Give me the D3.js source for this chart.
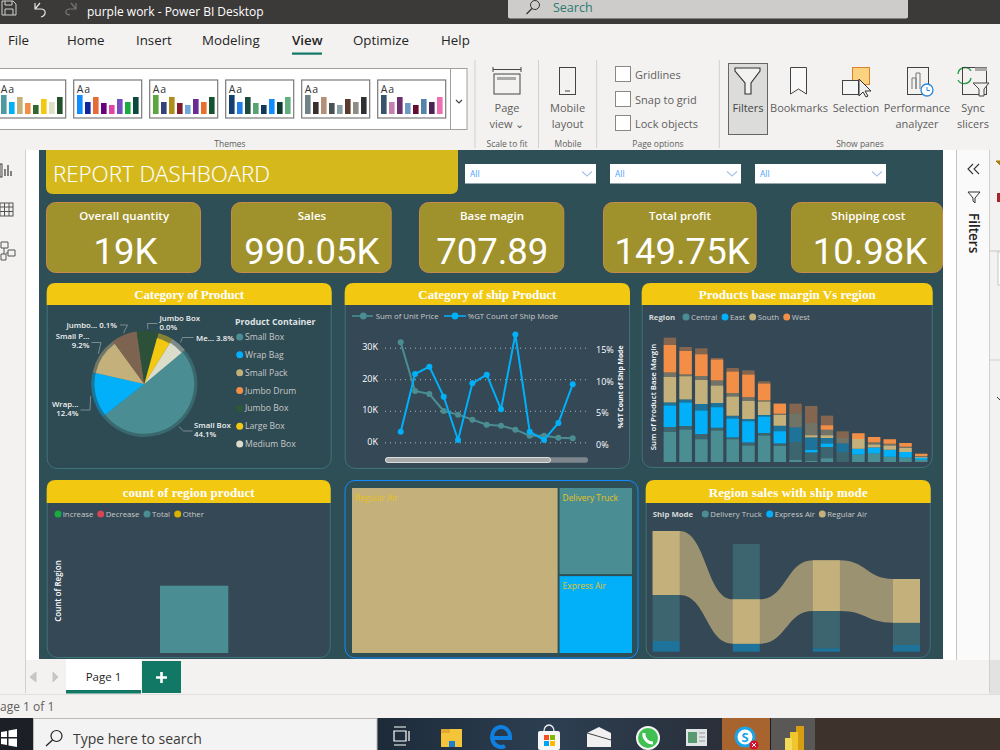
<!DOCTYPE html>
<html>
<head>
<meta charset="utf-8">
<title>purple work - Power BI Desktop</title>
<script src="https://cdn.jsdelivr.net/npm/d3@7"></script>
<style>
  html, body { margin: 0; padding: 0; background: #f3f2f1; overflow: hidden; }
  svg { display: block; font-family: "Open Sans", sans-serif; }
</style>
</head>
<body>
<div id="chart"></div>
<script>
// ---- chart data ----
const kpiTitles = ["Overall quantity", "Sales", "Base magin", "Total profit", "Shipping cost"];
const kpiValues = ["19K", "990.05K", "707.89", "149.75K", "10.98K"];

const containers = ["Small Box", "Wrap Bag", "Small Pack", "Jumbo Drum", "Jumbo Box", "Large Box", "Medium Box"];
const containerShare = [50.6, 14.2, 11.4, 7.8, 6.6, 4.6, 5.0];
const containerHighlight = [0.94, 0.94, 0.94, 1, 1, 0.9, 0.92];
const containerColors = ["#4a8e93", "#01b0f9", "#c4b07b", "#7d6450", "#2d5138", "#f2c811", "#dcdccb"];
const containerLegendColors = ["#4a8e93", "#01b0f9", "#c4b07b", "#f28e45", "#2d5a35", "#f2c811", "#dcdccb"];

const shipCategories = d3.range(1, 14);
const unitPrice = [31690, 16270, 15320, 9930, 8770, 7180, 5600, 5280, 4010, 2110, 2110, 1480, 1270];
const shipModePct = [1.69, 10.83, 11.99, 7.24, 0.37, 9.35, 10.72, 5.23, 17.11, 1.69, 0.37, 3.06, 9.19];
const priceTicks = [0, 10000, 20000, 30000];
const pctTicks = [0, 5, 10, 15];

const regions = ["Central", "East", "South", "West"];
const regionColors = ["#4a8e93", "#01b0f9", "#c4b07b", "#f28e45"];
const marginBars = d3.range(1, 18);
const centralTotal = [105, 108, 84, 103, 74, 59, 87, 56, 60, 29, 45, 30, 23, 26, 16, 14, 7];
const centralHigh = [90, 97, 68, 94, 68, 49, 79, 48, 6, 3, 11, 0, 23, 26, 16, 14, 7];
const eastTotal = [74, 80, 90, 74, 65, 70, 54, 53, 44, 45, 27, 26, 17, 18, 21, 16, 6];
const eastHigh = [64, 70, 70, 61, 56, 63, 49, 36, 0, 7, 10, 0, 17, 17, 21, 16, 6];
const southTotal = [90, 75, 84, 68, 68, 66, 44, 36, 42, 43, 25, 16, 29, 15, 18, 16, 5];
const southHigh = [76, 69, 72, 52, 57, 54, 40, 32, 0, 6, 8, 0, 29, 8, 12, 12, 2];
const westTotal = [104, 82, 83, 67, 75, 80, 57, 30, 29, 51, 42, 20, 17, 16, 13, 11, 8];
const westHigh = [82, 70, 65, 62, 64, 67, 50, 30, 0, 0, 13, 0, 17, 16, 13, 11, 6];

const waterfallLegend = ["Increase", "Decrease", "Total", "Other"];
const waterfallColors = ["#1aab40", "#d64554", "#4a8e93", "#d9b300"];
const regionCount = [4];

const treemapNames = ["Regular Air", "Delivery Truck", "Express Air"];
const treemapValues = [33660, 6364, 5698];
const treemapColors = ["#c4b07b", "#4a8e93", "#01b0f9"];

const ribbonRegions = ["R1", "R2", "R3", "R4"];
const shipModes = ["Delivery Truck", "Express Air", "Regular Air"];
const shipModeColors = ["#4a8e93", "#01b0f9", "#c4b07b"];
const deliveryTruck = [138, 166, 112, 67];
const expressAir = [32, 24, 10, 20];
const regularAir = [192, 133, 152, 131];

// ---- ribbon gallery and tabs of the window around the report ----
const ribbonTabs = ["File", "Home", "Insert", "Modeling", "View", "Optimize", "Help"];
const themeSwatches = [
  ["#4e9a9e", "#01b0f9", "#c4b07b", "#f28e45", "#33662e", "#f2c811", "#dfdfc8", "#22502a"],
  ["#118dff", "#12239e", "#e66c37", "#6b007b", "#e044a7", "#744ec2", "#1aab40", "#0b4a3c"],
  ["#5ca63f", "#374178", "#ae8f1b", "#7f1d2d", "#6fa8dc", "#6a2c91", "#e8702a", "#14532d"],
  ["#123f6d", "#1f7fe4", "#1c4a3f", "#5ba272", "#10395e", "#118dff", "#0c3a2f", "#62ae7f"],
  ["#6f8287", "#3a2f2c", "#b59079", "#4a5154", "#8a9ea5", "#5b3a2e", "#8e8c85", "#2d3134"],
  ["#37536b", "#c77fb0", "#6b2f6e", "#6d9ac4", "#680a32", "#5582a8", "#4c2350", "#ef6eb3"]
];
const themeBarHeights = [19, 12, 17, 11, 9, 15, 12, 17];

const svg = d3.select("#chart").append("svg")
    .attr("width", 1000)
    .attr("height", 750)
    .attr("viewBox", "0 0 1000 750");

// small helpers
function rect(g, x, y, w, h, fill, extra) {
  const r = g.append("rect").attr("x", x).attr("y", y).attr("width", w).attr("height", h).attr("fill", fill);
  if (extra) Object.keys(extra).forEach(k => r.attr(k, extra[k]));
  return r;
}
function text(g, x, y, str, size, fill, extra) {
  const t = g.append("text").attr("x", x).attr("y", y).attr("font-size", size).attr("fill", fill).text(str);
  if (extra) Object.keys(extra).forEach(k => t.attr(k, extra[k]));
  return t;
}
function path(g, d, stroke, extra) {
  const p = g.append("path").attr("d", d).attr("fill", "none").attr("stroke", stroke);
  if (extra) Object.keys(extra).forEach(k => p.attr(k, extra[k]));
  return p;
}

drawWindow();
drawReportTop();
drawPie();
drawCombo();
drawStacked();
drawWaterfall();
drawTreemap();
drawRibbon();

function drawWindow() {
  const g = svg.append("g");
  rect(g, 0, 0, 1000, 750, "#f3f2f1");

  // title bar
  rect(g, 0, 0, 1000, 24, "#3b3a39");
  path(g, "M2 1V15H16V4L13 1H2M5 1V5H12V1M5 15V9H13V15", "#d0d0d0", {"stroke-width": 1});
  path(g, "M35 3V9H41C46 9 47 15 41 17M35 9L40 3", "#e6e6e6", {"stroke-width": 1.2});
  path(g, "M76 3V9H70C65 9 64 15 70 15M76 9L71 3", "#777", {"stroke-width": 1.2});
  text(g, 87, 15.5, "purple work - Power BI Desktop", 12, "#fff");
  rect(g, 508, -4, 400, 22.5, "#cdccca", {rx: 2});
  g.append("circle").attr("cx", 535).attr("cy", 5).attr("r", 4.5).attr("fill", "none").attr("stroke", "#333");
  path(g, "M532 8.5L526.5 14", "#333", {"stroke-width": 1.2});
  text(g, 553, 12, "Search", 12.5, "#2a7a70");

  // tabs
  const tabX = [8, 67, 136, 202, 292, 353, 441];
  ribbonTabs.forEach((t, i) => {
    text(g, tabX[i], 45, t, 13.3, "#252423", t === "View" ? {"font-weight": 600} : null);
  });
  rect(g, 292, 52.5, 30, 2.2, "#117865");

  // theme gallery
  rect(g, -2, 68.5, 469, 61, "#fff", {stroke: "#a0a0a0"});
  path(g, "M450.5 68.5V129.5", "#a0a0a0");
  path(g, "M456 100L459 103L462 100", "#444", {"stroke-width": 1.2});
  themeSwatches.forEach((colors, i) => {
    const tx = -2.3 + i * 76;
    rect(g, tx, 80, 68, 38, "#fff", {stroke: "#7a7a7a", "stroke-width": 1.2});
    text(g, tx + 3, 92.5, "Aa", 10.5, "#333", {"letter-spacing": 0.8});
    colors.forEach((c, j) => {
      rect(g, tx + 3.3 + j * 8, 114 - themeBarHeights[j], 5.6, themeBarHeights[j], c);
    });
  });

  // group separators and captions
  [475, 538.5, 596.7, 719.3].forEach(x => path(g, `M${x} 60V148`, "#d2d0ce"));
  const cap = {"text-anchor": "middle"};
  text(g, 230, 147, "Themes", 8.5, "#605e5c", cap);
  text(g, 507, 147, "Scale to fit", 8.5, "#605e5c", cap);
  text(g, 568, 147, "Mobile", 8.5, "#605e5c", cap);
  text(g, 658, 147, "Page options", 8.5, "#605e5c", cap);
  text(g, 860, 147, "Show panes", 8.5, "#605e5c", cap);

  // page view
  path(g, "M493 67V72M493 69.5H521M521 67V72", "#444");
  rect(g, 494, 74, 26, 20, "none", {stroke: "#444"});
  rect(g, 497, 77, 19, 3, "#aaa");
  text(g, 507, 112, "Page", 11, "#605e5c", cap);
  text(g, 507, 128, "view \u2304", 11, "#605e5c", cap);

  // mobile layout
  rect(g, 559.5, 67.5, 16, 27, "none", {stroke: "#444"});
  path(g, "M565 91H570", "#444");
  text(g, 567.6, 112, "Mobile", 11, "#605e5c", cap);
  text(g, 567.6, 128, "layout", 11, "#605e5c", cap);

  // page options
  [["Gridlines", 66.5, 79], ["Snap to grid", 91.5, 104], ["Lock objects", 115.5, 128]].forEach(d => {
    rect(g, 615.5, d[1], 15, 15, "#fff", {stroke: "#8a8886"});
    text(g, 635, d[2], d[0], 11, "#605e5c");
  });

  // show panes
  rect(g, 728.5, 63.5, 39, 71, "#dcdcdb", {stroke: "#666"});
  path(g, "M735 68H760V71L751 83V94H745V83L735 71Z", "#333", {fill: "#f3f2f1", "stroke-width": 1.1});
  text(g, 748, 112, "Filters", 11, "#444", cap);
  path(g, "M790.5 67.5H806.5V94L798.5 89L790.5 94Z", "#444", {fill: "#f9f9f9"});
  text(g, 799, 112, "Bookmarks", 11, "#605e5c", cap);
  rect(g, 852.5, 67.5, 17, 17, "#fbd27f", {stroke: "#d9822b"});
  rect(g, 842.5, 80.5, 16, 14, "#f6f6f6", {stroke: "#444"});
  path(g, "M859 79V96L863 92L866 97L868 96L865 91H871Z", "#333", {fill: "#eee"});
  text(g, 856, 112, "Selection", 11, "#605e5c", cap);
  rect(g, 907.5, 67.5, 21, 27, "none", {stroke: "#444"});
  path(g, "M912 89V78H916V89M916 89V73H920V89", "#777");
  g.append("circle").attr("cx", 927).attr("cy", 90).attr("r", 6).attr("fill", "#fff").attr("stroke", "#2b88d8").attr("stroke-width", 1.3);
  path(g, "M927 87V90.5H930", "#2b88d8");
  text(g, 917, 112, "Performance", 11, "#605e5c", cap);
  text(g, 917, 128, "analyzer", 11, "#605e5c", cap);
  path(g, "M958 74A7 7 0 0 1 971 71M971 78A7 7 0 0 1 958 80", "#2e9e4f", {"stroke-width": 1.4});
  rect(g, 962.5, 67.5, 24, 27, "none", {stroke: "#444"});
  rect(g, 975, 67.5, 12, 3.5, "#aaa");
  path(g, "M973 83H989L984 89V96H979V89Z", "#444", {fill: "#f3f2f1"});
  text(g, 973, 112, "Sync", 11, "#605e5c", cap);
  text(g, 973, 128, "slicers", 11, "#605e5c", cap);

  // left rail
  rect(g, 26, 150, 13, 510, "#fff");
  path(g, "M25.5 150V693", "#d2d0ce");
  rect(g, 0, 164, 2, 13, "none", {stroke: "#444"});
  path(g, "M5 176V169M8 176V165M11 176V171", "#444", {"stroke-width": 1.3});
  rect(g, 0, 203, 13, 13, "none", {stroke: "#555"});
  path(g, "M0 207H13M0 211.5H13M4.5 203V216M9 203V216", "#555");
  path(g, "M1 242H8V248H1ZM8 250H15V256H8ZM1 254H6V260H1ZM4 248V254M8 253H6", "#555");

  // right rail
  rect(g, 943, 150, 14, 510, "#fff");
  rect(g, 957, 150, 32, 510, "#fafafa");
  path(g, "M956.5 150V660", "#c8c6c4");
  path(g, "M989.5 150V693", "#d2d0ce");
  rect(g, 990, 150, 10, 510, "#f3f2f1");
  path(g, "M973 164L968 169L973 174M979 164L974 169L979 174", "#333", {"stroke-width": 1.1});
  path(g, "M968 192H980L975 198V203L973 201V198Z", "#333");
  text(g, 0, 0, "Filters", 13.5, "#252423", {transform: "translate(969,213) rotate(90)", "font-weight": 600});
  path(g, "M996 161H1000L1000 165Z", "#a4800a", {fill: "#a4800a"});
  rect(g, 997, 193, 3, 9, "#a4262c");
  path(g, "M990 251H1000", "#c8c6c4");
  rect(g, 998, 252, 4, 33, "#fff", {stroke: "#c8c6c4"});
  path(g, "M990 360H1000", "#d2d0ce");
  path(g, "M997 397L1000 400", "#333");
  rect(g, 990, 660, 10, 34, "#e3e2e0");

  // page tabs
  path(g, "M30 677L36 672V682ZM58 677L53 672V682Z", "#c8c6c4", {fill: "#c8c6c4"});
  rect(g, 66, 659, 75, 34, "#fff");
  rect(g, 66, 690, 75, 3.5, "#117865");
  text(g, 103.5, 681, "Page 1", 11.5, "#252423", cap);
  rect(g, 142, 661, 39, 32, "#117865");
  path(g, "M161.5 672V683M156 677.5H167", "#fff", {"stroke-width": 2.6});
  path(g, "M0 694.5H1000", "#e1dfdd");
  text(g, 0, 711, "age 1 of 1", 12, "#605e5c");

  // taskbar
  const grad = svg.append("defs").append("linearGradient").attr("id", "task");
  grad.append("stop").attr("offset", "0").attr("stop-color", "#1d2a38");
  grad.append("stop").attr("offset", "0.5").attr("stop-color", "#2c3f52");
  grad.append("stop").attr("offset", "1").attr("stop-color", "#2a2f39");
  rect(g, 0, 718, 1000, 32, "#1c1f26");
  rect(g, 377, 718, 345, 32, "url(#task)");
  rect(g, 722, 718, 48, 32, "#a8642e");
  rect(g, 771, 718, 44, 32, "#5a5856");
  rect(g, 815, 718, 185, 32, "#3d322c");
  path(g, "M1 732L7 731V737H1ZM8.5 730.5L17 729V737H8.5ZM1 738.5H7V745L1 744ZM8.5 738.5H17V747L8.5 745.5Z", "#fff", {fill: "#fff", stroke: "none"});
  rect(g, 33.5, 718.5, 343.5, 32, "#f3f3f3", {stroke: "#bbb"});
  g.append("circle").attr("cx", 56.5).attr("cy", 736).attr("r", 5.5).attr("fill", "none").attr("stroke", "#222").attr("stroke-width", 1.2);
  path(g, "M52.5 740L46 746", "#222", {"stroke-width": 1.3});
  text(g, 73, 744, "Type here to search", 14, "#3b3a39");

  // taskbar icons
  path(g, "M394 731H406V741H394ZM394 727H406M394 745H406M409 731V741", "#fff", {"stroke-width": 1.2});
  rect(g, 441, 729, 21, 18, "#f4c53b");
  rect(g, 441, 729, 9, 4, "#e0a82e");
  rect(g, 449, 741, 6, 6, "#1d7fd1");
  path(g, "M493 738H510A9 10 0 1 0 505 746", "#0f7fe0", {"stroke-width": 4});
  rect(g, 538, 731, 22, 19, "#f6f6f6", {rx: 2});
  path(g, "M544 731A5 6 0 0 1 554 731", "#eee", {"stroke-width": 1.3});
  rect(g, 544, 735, 5, 5, "#f25022");
  rect(g, 550, 735, 5, 5, "#7fba00");
  rect(g, 544, 741, 5, 5, "#00a4ef");
  rect(g, 550, 741, 5, 5, "#ffb900");
  path(g, "M587 733L599 727L611 733V747H587Z", "#f0f0f0", {fill: "#f0f0f0", stroke: "none"});
  path(g, "M587 733L611 740", "#444");
  g.append("circle").attr("cx", 648).attr("cy", 738).attr("r", 11).attr("fill", "#3fc051").attr("stroke", "#f5f5f5").attr("stroke-width", 2);
  path(g, "M644 733C643 739 648 743 653 743", "#fff", {"stroke-width": 3});
  rect(g, 686, 729, 21, 17, "#dfe4e6");
  rect(g, 688, 732, 9, 11, "#5a9a70");
  path(g, "M699 733H705M699 737H705M699 741H705", "#999");
  g.append("circle").attr("cx", 745).attr("cy", 737).attr("r", 9).attr("fill", "#fff").attr("stroke", "#1aa5e8").attr("stroke-width", 3);
  text(g, 745, 742, "S", 13, "#1aa5e8", {"text-anchor": "middle", "font-weight": 700});
  g.append("circle").attr("cx", 754).attr("cy", 745).attr("r", 4.5).attr("fill", "#d6102d");
  path(g, "M752 743L756 747M756 743L752 747", "#fff");
  rect(g, 796, 726, 8, 24, "#d79e0f");
  rect(g, 790, 732, 8, 18, "#f0c62f");
  rect(g, 785, 738, 7, 12, "#f5da58");
}

function drawReportTop() {
  const g = svg.append("g");
  rect(g, 39, 150, 904, 509, "#2d4f55");

  // title banner, its top edge is cut by the ribbon
  g.append("path").attr("d", "M46 150H458V187Q458 194 451 194H53Q46 194 46 187Z").attr("fill", "#d5b81c");
  text(g, 53, 181.5, "REPORT DASHBOARD", 22.3, "#fff", {"font-weight": 300, style: "stroke:#fff;stroke-width:0.15"});

  // slicers
  [[465, 131], [610, 131], [755, 131]].forEach(d => {
    rect(g, d[0], 164, d[1], 19.5, "#fff");
    text(g, d[0] + 5, 177, "All", 8.4, "#4aa3ff");
    path(g, `M${d[0] + 117} 171.5L${d[0] + 122} 176L${d[0] + 127} 171.5`, "#a8c4ea", {"stroke-width": 1.2});
  });

  // KPI cards
  const cardX = [[46, 201], [231, 391.7], [419, 564.3], [603, 756.7], [791, 943]];
  const titleCx = [124.2, 312, 492, 680, 868.3];
  const valueCx = [125.5, 311.8, 492.3, 682, 870];
  kpiTitles.forEach((t, i) => {
    rect(g, cardX[i][0] + 0.5, 202.5, cardX[i][1] - cardX[i][0] - 1, 70, "#9f922c", {rx: 9, stroke: "#c98a4a"});
    text(g, titleCx[i], 220, t, 11.5, "#fff", {"text-anchor": "middle", "font-weight": 600});
    text(g, valueCx[i], 264, kpiValues[i], 36.5, "#fff", {"text-anchor": "middle", style: "font-family:Roboto"});
  });
}

// rounded tile with the yellow heading that every chart has
function panel(x0, x1, y0, y1, title, titleWidth, fill, headerH) {
  const g = svg.append("g");
  rect(g, x0 + 0.5, y0 + 0.5, x1 - x0 - 1, y1 - y0 - 1, fill, {rx: 10, stroke: "#3d7479", "stroke-width": 1});
  const r = 9;
  g.append("path")
      .attr("d", `M${x0} ${y0 + headerH}V${y0 + r}Q${x0} ${y0} ${x0 + r} ${y0}H${x1 - r}Q${x1} ${y0} ${x1} ${y0 + r}V${y0 + headerH}Z`)
      .attr("fill", "#f2c811");
  text(g, (x0 + x1) / 2, y0 + headerH - 6.5, title, 13, "#fff", {
    "text-anchor": "middle", "font-weight": 700, textLength: titleWidth, lengthAdjust: "spacing",
    style: "font-family:'Liberation Serif',serif"
  });
  return g;
}

// dot + label legend
function legend(g, y, names, colors, markX, labelX, size, fill) {
  names.forEach((n, i) => {
    g.append("circle").attr("cx", markX[i]).attr("cy", y).attr("r", 3.5).attr("fill", colors[i]);
    text(g, labelX[i], y + 2.8, n, size, fill);
  });
}

function drawPie() {
  const g = panel(46.7, 331.7, 283, 469, "Category of Product", 110, "#2e4a53", 22);
  const cx = 144.3, cy = 384, outer = 53;

  const pie = d3.pie().sort(null)
      .startAngle(50 * Math.PI / 180)
      .endAngle((50 + 360) * Math.PI / 180);
  const arcs = pie(containerShare);

  const ring = d3.arc().innerRadius(0).outerRadius(outer);
  const inner = d3.arc().innerRadius(0).outerRadius((d, i) => outer * containerHighlight[i]);

  const pg = g.append("g").attr("transform", `translate(${cx},${cy})`);
  pg.selectAll("path.ring").data(arcs).join("path")
      .attr("class", "ring")
      .attr("d", d => ring(d))
      .attr("fill", (d, i) => containerColors[i])
      .attr("opacity", 0.45);
  pg.selectAll("path.slice").data(arcs).join("path")
      .attr("class", "slice")
      .attr("d", (d, i) => inner(d, i))
      .attr("fill", (d, i) => containerColors[i]);

  // labels, Large Box has none
  const labels = [
    {i: 0, lines: ["Small Box", "44.1%"], x: 194, y: 428, anchor: "start", elbow: 183.5, lineY: 431, end: 192.5},
    {i: 1, lines: ["Wrap...", "12.4%"], x: 78.5, y: 407, anchor: "end", elbow: 90, lineY: 410, end: 80.5},
    {i: 2, lines: ["Small P...", "9.2%"], x: 89.5, y: 339, anchor: "end", elbow: 101, lineY: 342.5, end: 91.5},
    {i: 3, lines: ["Jumbo... 0.1%"], x: 117, y: 327.5, anchor: "end", elbow: 127.5, lineY: 325, end: 120},
    {i: 4, lines: ["Jumbo Box", "0.0%"], x: 159.5, y: 321, anchor: "start", elbow: 147.5, lineY: 323.5, end: 157.5},
    {i: 6, lines: ["Me... 3.8%"], x: 196, y: 341, anchor: "start", elbow: 182.5, lineY: 337.5, end: 193.5}
  ];
  const labelArc = d3.arc().innerRadius(outer + 2).outerRadius(outer + 2);
  labels.forEach(l => {
    const c = labelArc.centroid(arcs[l.i]);
    const line = d3.line();
    path(g, line([[cx + c[0], cy + c[1]], [l.elbow, l.lineY], [l.end, l.lineY]]), "#8d9da0", {"stroke-width": 0.8});
    l.lines.forEach((s, k) => {
      text(g, l.x, l.y + k * 9, s, 7.8, "#eef2f2", {"text-anchor": l.anchor, "font-weight": 600});
    });
  });

  // legend
  text(g, 235, 324.5, "Product Container", 8.8, "#dfe3e3", {"font-weight": 700});
  const legendY = d3.scalePoint().domain(containers).range([337, 444]);
  containers.forEach((n, i) => {
    g.append("circle").attr("cx", 239.7).attr("cy", legendY(n)).attr("r", 3.5).attr("fill", containerLegendColors[i]);
    text(g, 245, legendY(n) + 3, n, 8.6, "#c8c9c8");
  });
}

function drawCombo() {
  const g = panel(344.7, 630, 283, 469, "Category of ship Product", 138, "#344856", 22);

  const x = d3.scalePoint().domain(shipCategories).range([400.7, 572.7]);
  const yPrice = d3.scaleLinear().domain([0, 30000]).range([442.3, 347.7]);
  const yPct = d3.scaleLinear().domain([0, 15]).range([442.3, 347.7]);

  // left axis doubles as the dotted gridlines
  const left = g.append("g").attr("transform", "translate(385,0)")
      .call(d3.axisLeft(yPrice).tickValues(priceTicks).tickSize(-203).tickPadding(7).tickFormat(d => (d / 1000) + "K"));
  left.select(".domain").remove();
  left.selectAll(".tick line").attr("stroke", "#aeb7ba").attr("stroke-dasharray", "1,4").attr("stroke-width", 1);
  left.selectAll("text").attr("font-size", 9).attr("fill", "#fff").attr("dy", "0.2em").attr("font-family", "'Open Sans'");

  const right = g.append("g").attr("transform", "translate(588,0)")
      .call(d3.axisRight(yPct).tickValues(pctTicks).tickSize(0).tickPadding(8).tickFormat(d => d + "%"));
  right.select(".domain").remove();
  right.selectAll("text").attr("font-size", 9).attr("fill", "#fff").attr("dy", "0.55em").attr("font-family", "'Open Sans'");

  text(g, 0, 0, "%GT Count of Ship Mode", 6.8, "#fff", {
    transform: "translate(623,387) rotate(-90)", "text-anchor": "middle", "font-weight": 700
  });

  // series
  const priceLine = d3.line().x((d, i) => x(shipCategories[i])).y(d => yPrice(d));
  const pctLine = d3.line().x((d, i) => x(shipCategories[i])).y(d => yPct(d));
  path(g, priceLine(unitPrice), "#4a8e93", {"stroke-width": 2});
  g.selectAll("circle.price").data(unitPrice).join("circle")
      .attr("class", "price")
      .attr("cx", (d, i) => x(shipCategories[i])).attr("cy", d => yPrice(d)).attr("r", 3).attr("fill", "#4a8e93");
  path(g, pctLine(shipModePct), "#01b0f9", {"stroke-width": 2});
  g.selectAll("circle.pct").data(shipModePct).join("circle")
      .attr("class", "pct")
      .attr("cx", (d, i) => x(shipCategories[i])).attr("cy", d => yPct(d)).attr("r", 3).attr("fill", "#01b0f9");

  // legend
  path(g, "M352 316H373", "#4a8e93", {"stroke-width": 1.6});
  g.append("circle").attr("cx", 363.3).attr("cy", 316).attr("r", 3.4).attr("fill", "#4a8e93");
  text(g, 375.7, 319, "Sum of Unit Price", 7.8, "#c8c9c8");
  path(g, "M444 316H466", "#01b0f9", {"stroke-width": 1.6});
  g.append("circle").attr("cx", 455).attr("cy", 316).attr("r", 3.4).attr("fill", "#01b0f9");
  text(g, 467.7, 319, "%GT Count of Ship Mode", 7.8, "#c8c9c8");

  // scrollbar
  rect(g, 385, 457.3, 203, 5.4, "#7d868c", {rx: 2.5});
  rect(g, 385.5, 457.5, 165, 5, "#a9abab", {rx: 2.5, stroke: "#f0f0f0", "stroke-width": 0.8});
}

function drawStacked() {
  const g = panel(641.7, 932.7, 283, 468, "Products base margin Vs region", 177, "#344856", 22);

  const x = d3.scaleBand().domain(marginBars).range([663.7, 927.4]).paddingInner(0.21);
  const y = d3.scaleLinear().domain([0, 400]).range([462, 328.67]);
  const totals = [centralTotal, eastTotal, southTotal, westTotal];
  const highs = [centralHigh, eastHigh, southHigh, westHigh];

  marginBars.forEach((bar, b) => {
    let base = 0;
    regions.forEach((region, r) => {
      const t = totals[r][b], h = highs[r][b];
      rect(g, x(bar), y(base + t), x.bandwidth(), y(base) - y(base + t), regionColors[r], {opacity: 0.42});
      rect(g, x(bar), y(base + h), x.bandwidth(), y(base) - y(base + h), regionColors[r]);
      base += t;
    });
  });

  text(g, 648.7, 320, "Region", 7.8, "#d6d8d8", {"font-weight": 700});
  legend(g, 317, regions, regionColors, [686, 725, 752.7, 786.7], [691, 730, 757.7, 791.7], 7.8, "#c8c9c8");
  text(g, 0, 0, "Sum of Product Base Margin", 7.8, "#fff", {
    transform: "translate(655.5,397) rotate(-90)", "text-anchor": "middle", "font-weight": 600
  });
}

function drawWaterfall() {
  const g = panel(46.7, 330.7, 480, 658, "count of region product", 132, "#344856", 23);

  const x = d3.scaleBand().domain(["Total"]).range([160, 228.3]);
  const y = d3.scaleLinear().domain([0, d3.max(regionCount)]).range([653, 585.7]);
  g.selectAll("rect.total").data(regionCount).join("rect")
      .attr("class", "total")
      .attr("x", x("Total")).attr("width", x.bandwidth())
      .attr("y", d => y(d)).attr("height", d => y(0) - y(d))
      .attr("fill", "#4a8e93");

  legend(g, 514, waterfallLegend, waterfallColors, [58, 100.7, 147, 177.7], [62.7, 105.7, 152, 182.7], 7.8, "#c8c9c8");
  text(g, 0, 0, "Count of Region", 8, "#fff", {
    transform: "translate(60.5,591) rotate(-90)", "text-anchor": "middle", "font-weight": 600
  });
}

function drawTreemap() {
  const g = svg.append("g");
  rect(g, 345, 480.5, 293, 177.5, "#2d4f55", {rx: 10, stroke: "#118dff", "stroke-width": 1});

  const root = d3.hierarchy({children: treemapNames.map((n, i) => ({name: n, value: treemapValues[i], color: treemapColors[i]}))})
      .sum(d => d.value);
  d3.treemap().tile(d3.treemapBinary).size([280, 165]).paddingInner(2)(root);

  const tile = g.append("g").attr("transform", "translate(352,488)");
  tile.selectAll("rect").data(root.leaves()).join("rect")
      .attr("x", d => d.x0).attr("y", d => d.y0)
      .attr("width", d => d.x1 - d.x0).attr("height", d => d.y1 - d.y0)
      .attr("fill", d => d.data.color);
  tile.selectAll("text").data(root.leaves()).join("text")
      .attr("x", d => d.x0 + 3).attr("y", d => d.y0 + 12.5)
      .attr("font-size", 8.4)
      .attr("fill", "#e8c21a")
      .text(d => d.data.name);
}

function drawRibbon() {
  const g = panel(645.7, 930.7, 480, 658, "Region sales with ship mode", 159, "#344856", 23);

  const x = d3.scaleBand().domain(ribbonRegions).range([652.67, 920]).paddingInner(0.6625);
  const y = d3.scaleLinear().domain([0, 400]).range([651.67, 518.33]);
  const series = [deliveryTruck, expressAir, regularAir];

  // each column is stacked from small to large, so the ribbons swap rank
  const columns = ribbonRegions.map((region, r) => {
    const order = d3.range(3).sort((a, b) => series[a][r] - series[b][r]);
    let base = 0;
    const bands = [];
    order.forEach(s => {
      bands[s] = {y0: base, y1: base + series[s][r]};
      base += series[s][r];
    });
    return {region, bands};
  });

  // Regular Air is the highlighted ribbon
  const ribbonPoints = [];
  columns.forEach(c => {
    const b = c.bands[2];
    ribbonPoints.push({x: x(c.region), y0: b.y0, y1: b.y1});
    ribbonPoints.push({x: x(c.region) + x.bandwidth(), y0: b.y0, y1: b.y1});
  });
  const area = d3.area().curve(d3.curveBumpX)
      .x(d => d.x).y0(d => y(d.y0)).y1(d => y(d.y1));
  g.append("path").attr("d", area(ribbonPoints)).attr("fill", "#9a9270");

  columns.forEach(c => {
    c.bands.forEach((b, s) => {
      rect(g, x(c.region), y(b.y1), x.bandwidth(), y(b.y0) - y(b.y1), shipModeColors[s], {opacity: s === 2 ? 1 : 0.42});
    });
  });

  text(g, 652.7, 517, "Ship Mode", 7.8, "#d6d8d8", {"font-weight": 700});
  legend(g, 514, shipModes, shipModeColors, [705.3, 769.7, 822.3], [710.3, 774.7, 827.3], 7.8, "#c8c9c8");
}
</script>
</body>
</html>
